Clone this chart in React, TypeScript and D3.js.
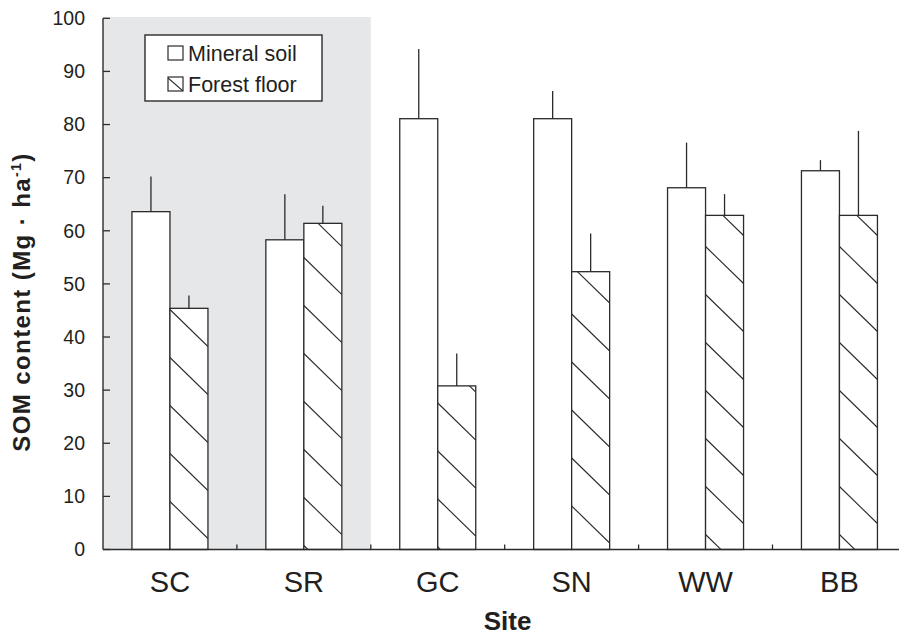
import React from "react";
import * as d3 from "d3";

const sites = ["SC", "SR", "GC", "SN", "WW", "BB"];
const mineralSoil = [63.6, 58.3, 81.1, 81.1, 68.1, 71.3];
const mineralSoilErr = [6.6, 8.6, 13.1, 5.2, 8.5, 2.0];
const forestFloor = [45.4, 61.4, 30.8, 52.3, 62.9, 62.9];
const forestFloorErr = [2.4, 3.3, 6.1, 7.2, 4.0, 15.9];
const yTicks = [0, 10, 20, 30, 40, 50, 60, 70, 80, 90, 100];
const shadedSites = ["SC", "SR"];
// hatch phase per forest-floor bar (distance of first line's left intercept above the baseline)
const hatchPhase = [48, 52, 50.5, 43.5, 15, 15];

const W = 899;
const H = 637;
const FONT = "'Liberation Sans', Arial, Helvetica, sans-serif";
const INK = "#2b2b2b";

export default function App() {
  const y = d3.scaleLinear().domain([0, 100]).range([549.5, 18.3]);
  const x = d3.scaleBand<string>().domain(sites).range([103, 906.4]).padding(0);
  const barW = 38;
  const hatchGap = 48;
  const hatchDy = 37;
  const base = y(0);

  const shadeEnd = (x(shadedSites[shadedSites.length - 1]) as number) + x.bandwidth();

  return (
    <svg
      width={W}
      height={H}
      style={{ position: "absolute", left: 0, top: 0, background: "#fff" }}
      fontFamily={FONT}
    >
      <defs>
        {sites.map((s, i) => {
          const left = (x(s) as number) + x.bandwidth() / 2;
          return (
            <clipPath id={`clip-${i}`} key={s}>
              <rect x={left} y={y(forestFloor[i])} width={barW} height={base - y(forestFloor[i])} />
            </clipPath>
          );
        })}
        <clipPath id="legclip">
          <rect x={168} y={77} width={15} height={14} />
        </clipPath>
      </defs>

      {/* shaded region */}
      <rect x={103} y={17} width={shadeEnd - 103} height={base - 17} fill="#e6e7e9" />

      {/* bars */}
      {sites.map((s, i) => {
        const c = (x(s) as number) + x.bandwidth() / 2;
        const mx = c - barW;
        const fx = c;
        const lines = [];
        for (let k = -1; k < 20; k++) {
          const yl = base - hatchPhase[i] - k * hatchGap;
          if (yl + hatchDy < y(forestFloor[i]) - 2) break;
          lines.push(
            <line key={k} x1={fx} y1={yl} x2={fx + barW} y2={yl + hatchDy} stroke={INK} strokeWidth={1.1} />
          );
        }
        return (
          <g key={s}>
            <rect x={mx} y={y(mineralSoil[i])} width={barW} height={base - y(mineralSoil[i])} fill="#fff" stroke={INK} strokeWidth={1.3} />
            <rect x={fx} y={y(forestFloor[i])} width={barW} height={base - y(forestFloor[i])} fill="#fff" />
            <g clipPath={`url(#clip-${i})`}>{lines}</g>
            <rect x={fx} y={y(forestFloor[i])} width={barW} height={base - y(forestFloor[i])} fill="none" stroke={INK} strokeWidth={1.3} />
            <line x1={mx + barW / 2} x2={mx + barW / 2} y1={y(mineralSoil[i])} y2={y(mineralSoil[i] + mineralSoilErr[i])} stroke={INK} strokeWidth={1.3} />
            <line x1={fx + barW / 2} x2={fx + barW / 2} y1={y(forestFloor[i])} y2={y(forestFloor[i] + forestFloorErr[i])} stroke={INK} strokeWidth={1.3} />
          </g>
        );
      })}

      {/* y axis */}
      <line x1={103} x2={103} y1={y(100)} y2={base} stroke={INK} strokeWidth={1.4} />
      {yTicks.map((t) => (
        <g key={t}>
          <line x1={103} x2={110} y1={y(t)} y2={y(t)} stroke={INK} strokeWidth={1.3} />
          <text x={85} y={y(t)} dy="0.35em" textAnchor="end" fontSize={19.5} fill="#231f20">
            {t}
          </text>
        </g>
      ))}

      {/* x axis */}
      <line x1={103} x2={W} y1={base} y2={base} stroke={INK} strokeWidth={1.5} />
      {sites.map((s, i) => {
        const bx = (x(s) as number) + x.bandwidth();
        return i < sites.length - 1 ? (
          <line key={s} x1={bx} x2={bx} y1={base} y2={base - 5} stroke={INK} strokeWidth={1.3} />
        ) : null;
      })}
      {sites.map((s) => (
        <text key={s} x={(x(s) as number) + x.bandwidth() / 2} y={592} textAnchor="middle" fontSize={29} fill="#231f20">
          {s}
        </text>
      ))}

      {/* axis titles */}
      <text x={507.5} y={630} textAnchor="middle" fontSize={26} fontWeight="bold" fill="#231f20">
        Site
      </text>
      <text
        transform="translate(30,302) rotate(-90)"
        textAnchor="middle"
        fontSize={24}
        fontWeight="bold"
        fill="#231f20"
        letterSpacing={1.4}
      >
        SOM content (Mg · ha
        <tspan fontSize={14} dy={-9}>-1</tspan>
        <tspan dy={9}>)</tspan>
      </text>

      {/* legend */}
      <rect x={145} y={35} width={177} height={66} fill="#fff" stroke={INK} strokeWidth={1.4} />
      <rect x={168} y={46} width={15} height={14} fill="#fff" stroke={INK} strokeWidth={1.2} />
      <text x={188} y={60.5} fontSize={21.5} fill="#231f20">Mineral soil</text>
      <rect x={168} y={77} width={15} height={14} fill="#fff" stroke={INK} strokeWidth={1.2} />
      <line x1={168} y1={78} x2={183} y2={91} stroke={INK} strokeWidth={1.1} clipPath="url(#legclip)" />
      <text x={188} y={91.5} fontSize={21.5} fill="#231f20">Forest floor</text>
    </svg>
  );
}
